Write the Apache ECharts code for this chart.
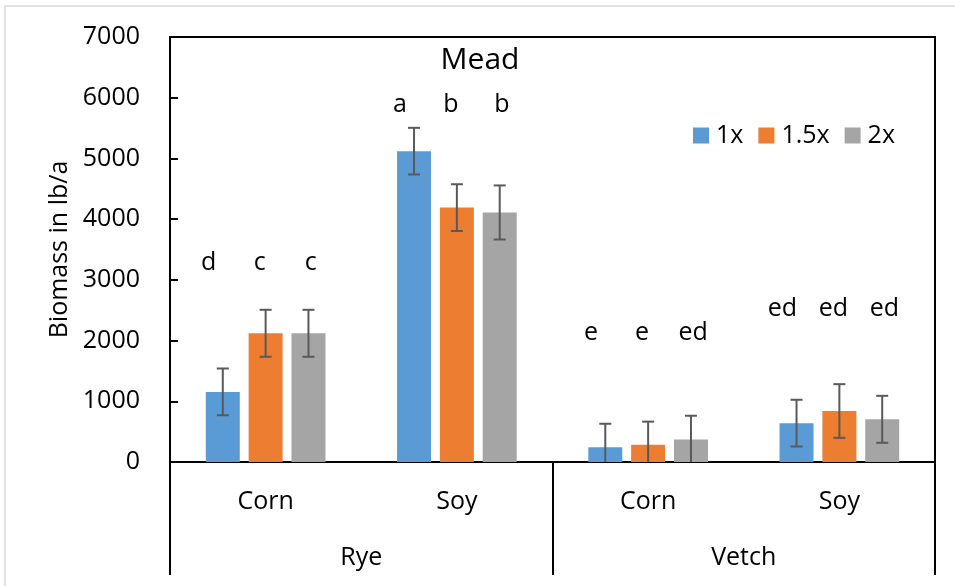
<!DOCTYPE html>
<html>
<head>
<meta charset="utf-8">
<script src="https://cdn.jsdelivr.net/npm/echarts@6/dist/echarts.min.js"></script>
<style>
html,body{margin:0;padding:0;background:#fff;}
#chart{width:955px;height:586px;}
</style>
</head>
<body>
<div id="chart"></div>
<script>
// ---- data ----
const cropCategories = ['Corn', 'Soy', 'Corn', 'Soy'];
const coverGroups = ['Rye', 'Vetch'];
const seriesNames = ['1x', '1.5x', '2x'];
const values1x  = [1155, 5120, 245, 640];
const values15x = [2120, 4190, 285, 840];
const values2x  = [2120, 4110, 372, 703];
const err1x  = [385, 384, 385, 385];
const err15x = [387, 385, 380, 442];
const err2x  = [387, 445, 390, 387];
const letters1x  = ['d', 'a', 'e', 'ed'];
const letters15x = ['c', 'b', 'e', 'ed'];
const letters2x  = ['c', 'b', 'ed', 'ed'];
const letterHeights = [3280, 5890, 2130, 2520];
const yTicks = [0, 1000, 2000, 3000, 4000, 5000, 6000, 7000];

// ---- styles ----
const colors = ['#5B9BD5', '#ED7D31', '#A5A5A5'];
const FONT = '"Open Sans", sans-serif';
const FS = 25;
const BAR_W = 34;
const BAR_GAP = 0.26;
const letterDx = [-57, -6, 45];

const allValues = [values1x, values15x, values2x];
const allErr = [err1x, err15x, err2x];
const allLetters = [letters1x, letters15x, letters2x];

const chart = echarts.init(document.getElementById('chart'));

function errSeries(si) {
  const data = allValues[si].map((v, i) => [i, v, allErr[si][i]]);
  return {
    type: 'custom',
    name: seriesNames[si] + ' err',
    xAxisIndex: 0,
    z: 5,
    silent: true,
    data: data,
    renderItem: function (params, api) {
      const c = api.value(0), v = api.value(1), e = api.value(2);
      const dx = (si - 1) * BAR_W * (1 + BAR_GAP);
      const lo = Math.max(0, v - e), hi = v + e;
      const pHi = api.coord([c, hi]);
      const pLo = api.coord([c, lo]);
      const x = pHi[0] + dx;
      const style = { stroke: '#595959', lineWidth: 2 };
      const children = [
        { type: 'line', shape: { x1: x, y1: pHi[1], x2: x, y2: pLo[1] }, style: style },
        { type: 'line', shape: { x1: x - 6, y1: pHi[1], x2: x + 6, y2: pHi[1] }, style: style }
      ];
      if (v - e > 0) {
        children.push({ type: 'line', shape: { x1: x - 6, y1: pLo[1], x2: x + 6, y2: pLo[1] }, style: style });
      }
      return { type: 'group', children: children };
    }
  };
}

function letterSeries(si) {
  const data = letterHeights.map((h, i) => [i, h]);
  return {
    type: 'custom',
    name: seriesNames[si] + ' letters',
    xAxisIndex: 0,
    z: 6,
    silent: true,
    data: data,
    renderItem: function (params, api) {
      const c = api.value(0), h = api.value(1);
      const p = api.coord([c, h]);
      return {
        type: 'text',
        x: p[0] + letterDx[si],
        y: p[1],
        style: {
          text: allLetters[si][params.dataIndex],
          fill: '#000',
          font: FS + 'px ' + FONT,
          align: 'center',
          verticalAlign: 'middle'
        }
      };
    }
  };
}

const barSeries = seriesNames.map((n, si) => ({
  type: 'bar',
  name: n,
  xAxisIndex: 0,
  data: allValues[si],
  barWidth: BAR_W,
  barGap: (BAR_GAP * 100) + '%',
  itemStyle: { color: colors[si] },
  z: 2
}));

const option = {
  animation: false,
  backgroundColor: '#fff',
  title: {
    text: 'Mead',
    left: 475,
    top: 40,
    textAlign: 'center',
    textStyle: { fontFamily: FONT, fontSize: 30, fontWeight: 'normal', color: '#000' }
  },
  legend: {
    data: seriesNames,
    left: 688,
    top: 118,
    itemWidth: 16,
    itemHeight: 16,
    itemGap: 15,
    icon: 'rect',
    textStyle: { fontFamily: FONT, fontSize: FS, color: '#000', padding: [0, 0, 0, 2] }
  },
  grid: {
    left: 170, right: 20, top: 37, bottom: 124,
    show: true, borderColor: '#000', borderWidth: 2, backgroundColor: 'transparent'
  },
  xAxis: [
    {
      type: 'category',
      data: cropCategories,
      position: 'bottom',
      axisLine: { lineStyle: { color: '#000', width: 2 } },
      axisTick: { show: false },
      axisLabel: { fontFamily: FONT, fontSize: FS, color: '#000', margin: 27 },
      splitLine: { show: false }
    },
    {
      type: 'category',
      data: coverGroups,
      position: 'bottom',
      axisLine: { show: false },
      axisTick: { show: true, length: 113, lineStyle: { color: '#000', width: 2 } },
      axisLabel: { fontFamily: FONT, fontSize: FS, color: '#000', margin: 83 },
      splitLine: { show: false }
    }
  ],
  yAxis: {
    type: 'value',
    min: yTicks[0],
    max: yTicks[yTicks.length - 1],
    interval: 1000,
    name: 'Biomass in lb/a',
    nameLocation: 'middle',
    nameGap: 91,
    nameTextStyle: { fontFamily: FONT, fontSize: FS, color: '#000' },
    axisLine: { show: true, lineStyle: { color: '#000', width: 2 } },
    axisTick: { show: true, inside: true, length: 8, lineStyle: { color: '#000', width: 2 } },
    axisLabel: { fontFamily: FONT, fontSize: FS, color: '#000', margin: 30, formatter: function (v) { return String(v); } },
    splitLine: { show: false }
  },
  graphic: [
    {
      type: 'rect',
      shape: { x: 5, y: 6, width: 1000, height: 700 },
      style: { fill: 'none', stroke: '#d9d9d9', lineWidth: 1.5 },
      z: -1,
      silent: true
    }
  ],
  series: [
    ...barSeries,
    errSeries(0), errSeries(1), errSeries(2),
    letterSeries(0), letterSeries(1), letterSeries(2)
  ]
};

chart.setOption(option);
</script>
</body>
</html>
